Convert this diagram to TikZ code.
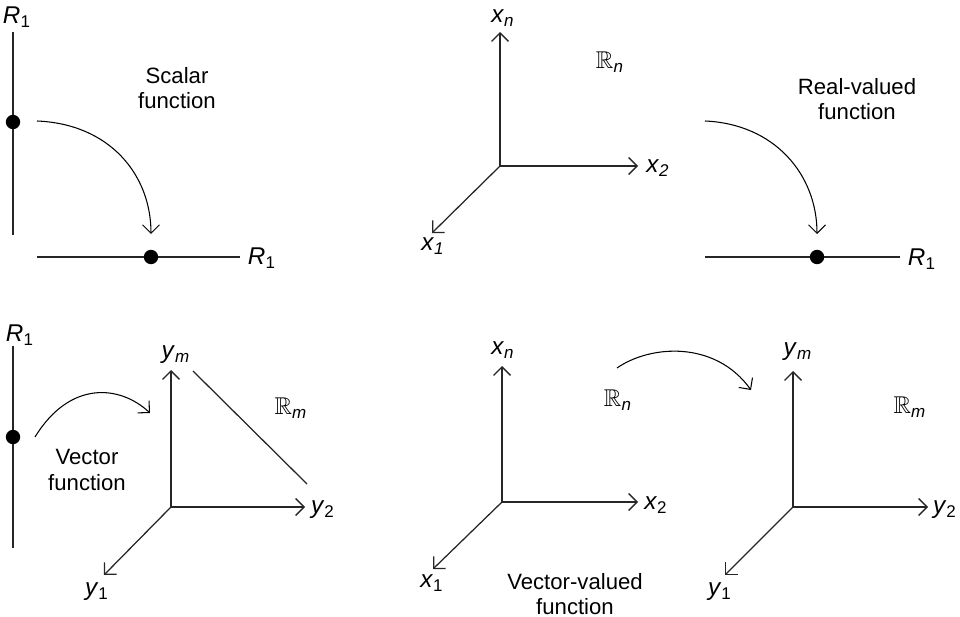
\documentclass[tikz,border=0pt]{standalone}
\usepackage{amssymb}
\usepackage{fontspec}
\setmainfont{Liberation Sans}
\usetikzlibrary{arrows.meta}

\newcommand{\axlab}[2]{\textit{#1}\textsubscript{#2}}
\newcommand{\bbR}[1]{$\mathbb{R}$\textsubscript{\textit{#1}}}

\begin{document}
\begin{tikzpicture}[>={Straight Barb[length=4pt,width=8pt]},
    x=0.016667cm, y=-0.016667cm,
    axis/.style={->, line width=0.6pt, black!85},
    line/.style={line width=0.6pt, black!85},
    map/.style={->, line width=0.5pt},
    dot/.style={circle, fill=black, inner sep=0pt, minimum size=0.24cm},
    lbl/.style={font=\fontsize{11.5}{13}\selectfont, inner sep=0pt},
    txt/.style={align=center, font=\fontsize{10.5}{12}\selectfont}]

\useasboundingbox (0,0) rectangle (960,617);

% Scalar function
\coordinate (a1) at (13,32);
\coordinate (a2) at (13,235);
\coordinate (b1) at (37,257);
\coordinate (b2) at (240,257);
\draw[line] (a1) -- (a2);
\draw[line] (b1) -- (b2);
\node[dot] (pa) at (13,122) {};
\node[dot] (qa) at (151,257) {};
\node[lbl] (ra) at (17,17) {\axlab{R}{1}};
\node[lbl] (rb) at (262,258) {\axlab{R}{1}};
\node[txt] (scal) at (177,88) {Scalar\\function};
\coordinate (sa) at (37,121);
\coordinate (ea) at (151,234);
\draw[map] (sa) .. controls (110,124) and (151,175) .. (ea);

% Rn (oben)
\coordinate (o2) at (500,166);
\coordinate (n2) at (500,32);
\coordinate (h2) at (638,166);
\coordinate (d2) at (432,233);
\draw[axis] (o2) -- (n2);
\draw[axis] (o2) -- (h2);
\draw[axis] (o2) -- (d2);
\node[lbl] (xn2) at (503,18) {\axlab{x}{\textit{n}}};
\node[lbl] (xb2) at (658,168) {\axlab{x}{\textit{2}}};
\node[lbl] (xa2) at (433,246) {\axlab{x}{\textit{1}}};
\node[lbl] (rn2) at (610,62) {\bbR{n}};

% Real-valued function
\coordinate (c1) at (705,257);
\coordinate (c2) at (900,257);
\draw[line] (c1) -- (c2);
\node[dot] (qc) at (817,257) {};
\node[lbl] (rc) at (922,259) {\axlab{R}{1}};
\node[txt] (real) at (857,99) {Real-valued\\function};
\coordinate (sc) at (705,121);
\coordinate (ec) at (817,234);
\draw[map] (sc) .. controls (775,124) and (817,175) .. (ec);

% Vector function
\coordinate (f1) at (13,346);
\coordinate (f2) at (13,548);
\draw[line] (f1) -- (f2);
\node[dot] (pf) at (13,437) {};
\node[lbl] (rf) at (20,335) {\axlab{R}{1}};
\node[txt] (vect) at (87,470) {Vector\\function};
\coordinate (o4) at (171,507);
\coordinate (n4) at (171,370);
\coordinate (h4) at (305,507);
\coordinate (d4) at (104,575);
\draw[axis] (o4) -- (n4);
\draw[axis] (o4) -- (h4);
\draw[axis] (o4) -- (d4);
\coordinate (t1) at (193,371);
\coordinate (t2) at (307,484);
\draw[line] (t1) -- (t2);
\node[lbl] (ym4) at (176,355) {\axlab{y}{\textit{m}}};
\node[lbl] (yb4) at (323,510) {\axlab{y}{2}};
\node[lbl] (ya4) at (97,592) {\axlab{y}{1}};
\node[lbl] (rm4) at (291,408) {\bbR{m}};
\coordinate (sf) at (35,437);
\coordinate (ef) at (150,413);
\draw[map] (sf) .. controls (70,380) and (120,385) .. (ef);

% Vector-valued function
\coordinate (o5) at (502,502);
\coordinate (n5) at (502,366);
\coordinate (h5) at (638,502);
\coordinate (d5) at (433,569);
\draw[axis] (o5) -- (n5);
\draw[axis] (o5) -- (h5);
\draw[axis] (o5) -- (d5);
\node[lbl] (xn5) at (503,350) {\axlab{x}{\textit{n}}};
\node[lbl] (xb5) at (656,505) {\axlab{x}{2}};
\node[lbl] (xa5) at (432,583) {\axlab{x}{1}};
\node[lbl] (rn5) at (618,400) {\bbR{n}};
\node[txt] (vval) at (575,594) {Vector-valued\\function};

\coordinate (o6) at (793,507);
\coordinate (n6) at (793,371);
\coordinate (h6) at (928,507);
\coordinate (d6) at (725,575);
\draw[axis] (o6) -- (n6);
\draw[axis] (o6) -- (h6);
\draw[axis] (o6) -- (d6);
\node[lbl] (ym6) at (798,352) {\axlab{y}{\textit{m}}};
\node[lbl] (yb6) at (945,510) {\axlab{y}{2}};
\node[lbl] (ya6) at (720,592) {\axlab{y}{1}};
\node[lbl] (rm6) at (910,407) {\bbR{m}};
\coordinate (sv) at (617,368);
\coordinate (ev) at (751,390);
\draw[map] (sv) .. controls (650,345) and (715,340) .. (ev);

\end{tikzpicture}
\end{document}
